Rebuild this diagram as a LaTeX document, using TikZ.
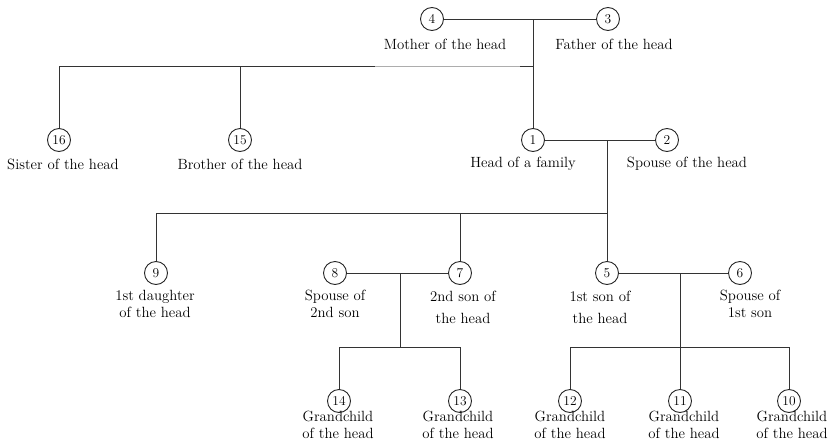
\documentclass[tikz,border=0pt]{standalone}
\begin{document}
\begin{tikzpicture}[x=1pt,y=-1pt,
  person/.style={circle,draw=black!85,line width=0.9pt,minimum size=23pt,inner sep=0pt,font=\fontsize{13.5}{13.5}\selectfont},
  lbl/.style={align=center,inner sep=0pt,font=\fontsize{14.8}{17}\selectfont},
  link/.style={draw=black!80,line width=0.95pt},
  faint/.style={draw=black!32,line width=0.95pt}]
\useasboundingbox (0,0) rectangle (835,442);
% persons
\node[person] (n4) at (432,19) {4};
\node[person] (n3) at (608,19) {3};
\node[person] (n16) at (59,140) {16};
\node[person] (n15) at (240,140) {15};
\node[person] (n1) at (533,140) {1};
\node[person] (n2) at (667,140) {2};
\node[person] (n9) at (156,273) {9};
\node[person] (n8) at (335,273) {8};
\node[person] (n7) at (460,273) {7};
\node[person] (n5) at (607,273) {5};
\node[person] (n6) at (740,273) {6};
\node[person] (n14) at (339,401) {14};
\node[person] (n13) at (460,401) {13};
\node[person] (n12) at (570,401) {12};
\node[person] (n11) at (680,401) {11};
\node[person] (n10) at (789,401) {10};
% labels
\node[lbl] (l4) at (445,44) {Mother of the head};
\node[lbl] (l3) at (614,44) {Father of the head};
\node[lbl] (l16) at (63,164) {Sister of the head};
\node[lbl] (l15) at (240,164) {Brother of the head};
\node[lbl] (l1) at (523,164) {Head of a family};
\node[lbl] (l2) at (687,164) {Spouse of the head};
\node[lbl] (l9) at (155,304) {1st daughter\\of the head};
\node[lbl] (l8) at (335,304) {Spouse of\\2nd son};
\node[lbl] (l7) at (463,307) {2nd son of\\[5pt]the head};
\node[lbl] (l5) at (600,307) {1st son of\\[5pt]the head};
\node[lbl] (l6) at (750,304) {Spouse of\\1st son};
\node[lbl] (l14) at (338,425) {Grandchild\\of the head};
\node[lbl] (l13) at (458,425) {Grandchild\\of the head};
\node[lbl] (l12) at (570,425) {Grandchild\\of the head};
\node[lbl] (l11) at (684,425) {Grandchild\\of the head};
\node[lbl] (l10) at (792,425) {Grandchild\\of the head};
% junctions
\coordinate (m43) at (533,19);
\coordinate (jtop) at (533,66);
\coordinate (jB) at (520,66);
\coordinate (jA) at (375,66);
\coordinate (j15) at (240,66);
\coordinate (j16) at (59,66);
\coordinate (m12) at (607,140);
\coordinate (jk) at (607,213);
\coordinate (j7) at (460,213);
\coordinate (j9) at (156,213);
\coordinate (m87) at (400,273);
\coordinate (g1) at (400,347);
\coordinate (g14) at (339,347);
\coordinate (g13) at (460,347);
\coordinate (m56) at (680,273);
\coordinate (g2) at (680,347);
\coordinate (g12) at (570,347);
\coordinate (g10) at (789,347);
% connectors
\draw[link] (n4) -- (n3);
\draw[link] (m43) -- (n1);
\draw[link] (n16) -- (j16) -- (jA);
\draw[faint] (jA) -- (jB);
\draw[link] (jB) -- (jtop);
\draw[link] (n15) -- (j15);
\draw[link] (n1) -- (n2);
\draw[link] (m12) -- (jk) -- (j9) -- (n9);
\draw[link] (jk) -- (n5);
\draw[link] (j7) -- (n7);
\draw[link] (n8) -- (n7);
\draw[link] (m87) -- (g1);
\draw[link] (n14) -- (g14) -- (g13) -- (n13);
\draw[link] (n5) -- (n6);
\draw[link] (m56) -- (n11);
\draw[link] (n12) -- (g12) -- (g10) -- (n10);
\end{tikzpicture}
\end{document}
